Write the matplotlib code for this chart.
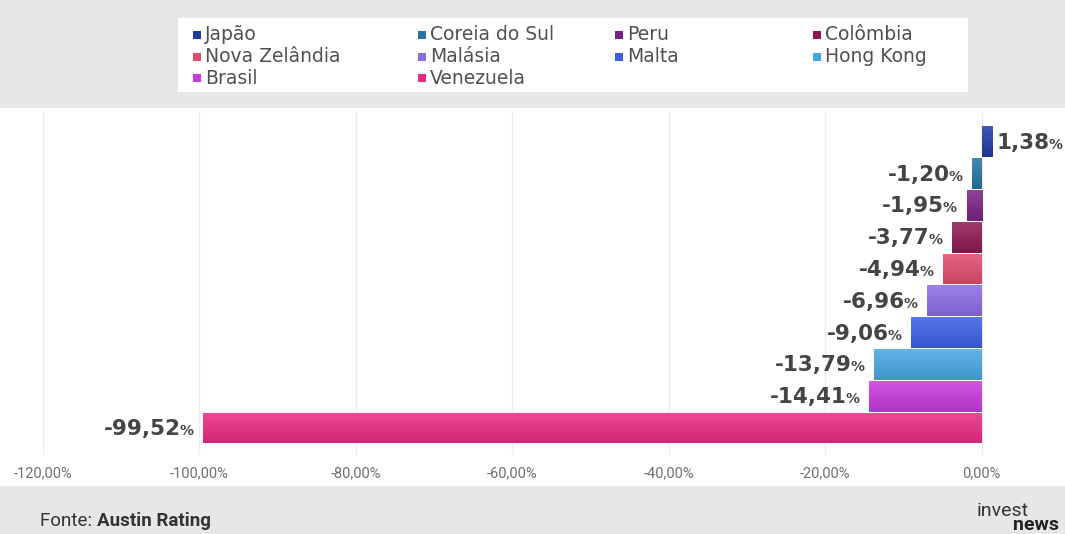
import numpy as np
import matplotlib
matplotlib.use("Agg")
import matplotlib.pyplot as plt
from matplotlib.colors import to_rgb
from matplotlib.patches import Rectangle

# dados (Austin Rating)
paises = ["Japão", "Coreia do Sul", "Peru", "Colômbia", "Nova Zelândia",
          "Malásia", "Malta", "Hong Kong", "Brasil", "Venezuela"]
valores = [1.38, -1.20, -1.95, -3.77, -4.94, -6.96, -9.06, -13.79, -14.41, -99.52]
cores = ["#1f3aa6", "#2572a3", "#7a2283", "#8e1752", "#e04c6c",
         "#8a6be4", "#3a5ee4", "#46a6e2", "#c639dc", "#e92a82"]
ticks = [-120, -100, -80, -60, -40, -20, 0]

W, H = 1065, 534
fig = plt.figure(figsize=(W / 100, H / 100), dpi=100)
fig.patch.set_facecolor("white")

cinza = "#e6e7e9"
# faixas cinza em cima e embaixo
fig.patches.append(Rectangle((0, 1 - 108 / H), 1, 108 / H, transform=fig.transFigure,
                             facecolor=cinza, edgecolor="none", zorder=0))
fig.patches.append(Rectangle((0, 0), 1, 48 / H, transform=fig.transFigure,
                             facecolor=cinza, edgecolor="none", zorder=0))
fig.patches.append(Rectangle((178 / W, 1 - 92 / H), 790 / W, 74 / H, transform=fig.transFigure,
                             facecolor="white", edgecolor="none", zorder=1))


def mix(c, other, t):
    c = np.array(to_rgb(c))
    return tuple(c * (1 - t) + np.array(other) * t)


ax = fig.add_axes([43 / W, 1 - 455 / H, 1017 / W, 343 / H])
ax.set_facecolor("none")
y = np.arange(len(paises))
bars = ax.barh(y, valores, height=0.97, color=cores, zorder=2)

# gradiente vertical em cada barra
for b, c in zip(bars, cores):
    x0, y0, w, h = b.get_x(), b.get_y(), b.get_width(), b.get_height()
    top = mix(c, (1, 1, 1), 0.15)
    bot = mix(c, (0, 0, 0), 0.10)
    grad = np.linspace(0, 1, 50)[:, None, None]
    img = np.array(top)[None, None, :] * (1 - grad) + np.array(bot)[None, None, :] * grad
    im = ax.imshow(img, extent=(min(x0, x0 + w), max(x0, x0 + w), y0 + h, y0),
                   aspect="auto", zorder=3, interpolation="bilinear")
    im.set_clip_path(b)

ax.set_xlim(-120, 10)
ax.set_ylim(9.85, -0.94)
ax.set_xticks(ticks)
ax.set_xticklabels([f"{t:.2f}".replace(".", ",") + "%" for t in ticks],
                   family="Roboto")
ax.tick_params(axis="x", length=0, pad=8, labelsize=10.5, labelcolor="#707070")
ax.set_yticks([])
for s in ax.spines.values():
    s.set_visible(False)
ax.grid(axis="x", color="#ececec", linewidth=1, zorder=1)

# rótulos de valor
lab = dict(color="#454545", fontweight="bold", family="DejaVu Sans")
for i, v in enumerate(valores):
    num = f"{v:.2f}".replace(".", ",")
    yb = i + 0.22
    if v < 0:
        pct = ax.annotate("%", xy=(v, yb), xytext=(-7, 0), textcoords="offset points",
                          ha="right", va="baseline", fontsize=10, **lab)
        ax.annotate(num, xy=(0.1, yb), xycoords=(pct, "data"), ha="right",
                    va="baseline", fontsize=15.5, **lab)
    else:
        t = ax.annotate(num, xy=(v, yb), xytext=(3, 0), textcoords="offset points",
                        ha="left", va="baseline", fontsize=15.5, **lab)
        ax.annotate("%", xy=(0.97, yb), xycoords=(t, "data"), ha="left",
                    va="baseline", fontsize=10, **lab)

# legenda em grade fixa
col_x = [193, 418, 615, 813]
row_y = [35, 57, 78]
for k, (p, c) in enumerate(zip(paises, cores)):
    r, cidx = divmod(k, 4)
    xs, ys = col_x[cidx], row_y[r]
    fig.patches.append(Rectangle((xs / W, 1 - (ys + 4) / H), 8 / W, 8 / H,
                                 transform=fig.transFigure, facecolor=c,
                                 edgecolor="none", zorder=2))
    fig.text((xs + 12) / W, 1 - ys / H, p, fontsize=13.5, color="#505050",
             va="center", ha="left", family="DejaVu Sans", zorder=3)

# rodapé
ft = fig.text(40 / W, 1 - 521 / H, "Fonte: ", fontsize=13.5, color="#333333",
              va="center", ha="left", family="Roboto")
fig.canvas.draw()
bb = ft.get_window_extent()
fig.text(bb.x1 / W, 1 - 521 / H, "Austin Rating", fontsize=13.5, color="#333333",
         va="center", ha="left", family="Roboto", fontweight="bold")
fig.text(1003 / W, 1 - 511 / H, "invest", fontsize=14, color="#333333",
         va="center", ha="center", family="Roboto")
fig.text(1036 / W, 1 - 516 / H, "news", fontsize=14, color="#222222",
         va="top", ha="center", family="Roboto", fontweight="bold")

fig.savefig("out.png", dpi=100, facecolor=fig.get_facecolor())
